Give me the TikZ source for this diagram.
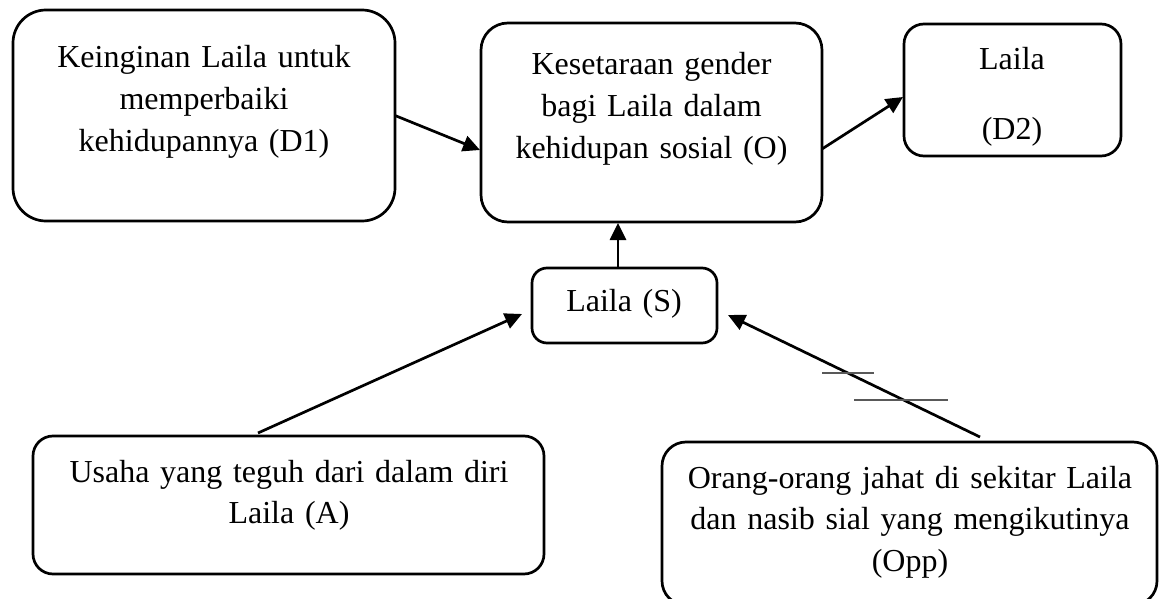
\documentclass[tikz,border=0pt]{standalone}
\usepackage{fontspec}
\setmainfont{Liberation Serif}
\usetikzlibrary{arrows.meta,calc}
\begin{document}
\begin{tikzpicture}[x=1pt,y=-1pt,
  box/.style={draw,line width=2.7pt,inner sep=0pt,outer sep=0pt},
  lbl/.style={anchor=base,inner sep=0pt,align=center,text width=500pt,font=\fontsize{32}{41.7}\selectfont},
  conn/.style={line width=2.7pt,-{Triangle[length=17pt,width=16pt]}},
  stray/.style={line width=1.4pt,draw=black!65}]
\useasboundingbox (0,0) rectangle (1159,599);
% boxes
\node[box,rounded corners=33pt,minimum width=382pt,minimum height=211pt] (D1) at (204,115.5) {};
\node[box,rounded corners=27pt,minimum width=341pt,minimum height=199pt] (O) at (651.5,122.5) {};
\node[box,rounded corners=20pt,minimum width=217pt,minimum height=132pt] (D2) at (1012.5,90) {};
\node[box,rounded corners=15pt,minimum width=185pt,minimum height=75pt] (S) at (624.5,305.5) {};
\node[box,rounded corners=20pt,minimum width=511pt,minimum height=138pt] (A) at (288.5,505) {};
\node[box,rounded corners=24pt,minimum width=495pt,minimum height=163pt] (Opp) at (909.5,523.5) {};
% texts
\node[lbl] (D1t) at (204,68) {Keinginan Laila untuk\\memperbaiki\\kehidupannya (D1)};
\node[lbl] (Ot) at (651.5,75) {Kesetaraan gender\\bagi Laila dalam\\kehidupan sosial (O)};
\node[lbl] (D2t) at (1012,70) {Laila\\[28pt](D2)};
\node[lbl] (St) at (624,311) {Laila (S)};
\node[lbl] (At) at (289,482) {Usaha yang teguh dari dalam diri\\Laila (A)};
\node[lbl] (Oppt) at (910,488) {Orang-orang jahat di sekitar Laila\\dan nasib sial yang mengikutinya\\(Opp)};
% connectors
\draw[conn] (D1.east) -- ($(O.west)+(-1,27.5)$);
\draw[conn] ($(O.east)+(0,26.5)$) -- ($(D2.west)+(-1,7)$);
\draw[conn] ($(S.north)+(-6.5,0)$) -- ($(O.south)+(-33.5,1)$);
\draw[conn] ($(A.north)+(-30.5,-3)$) -- ($(S.west)+(-10,8.5)$);
\draw[conn] ($(Opp.north)+(70.5,-5)$) -- ($(S.east)+(11,9.5)$);
% stray strokes
\draw[stray] (822,373) -- (874,373);
\draw[stray] (854,400) -- (948,400);
\end{tikzpicture}
\end{document}
